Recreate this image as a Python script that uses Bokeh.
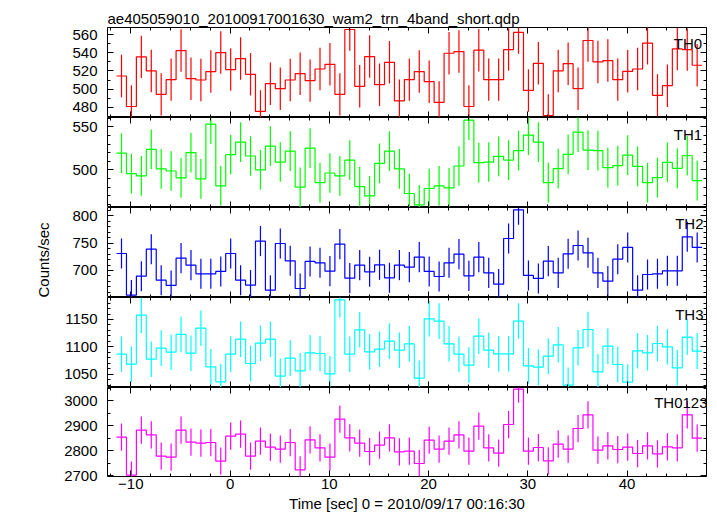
import numpy as np
from bokeh.plotting import figure
from bokeh.layouts import column
from bokeh.models import (Range1d, LinearAxis, SingleIntervalTicker, Label,
                          CustomLabelingPolicy, Title)
from bokeh.embed import file_html
from bokeh.resources import INLINE

# ---------------- data ----------------
title_text = "ae405059010_20100917001630_wam2_trn_4band_short.qdp"
x_title = "Time [sec] 0 = 2010/09/17 00:16:30"
y_title = "Counts/sec"
panel_names = ["TH0", "TH1", "TH2", "TH3", "TH0123"]

time_s = [-10.94, -9.94, -8.94, -7.94, -6.94, -5.94, -4.94, -3.94, -2.94, -1.94,
          -0.94, 0.06, 1.06, 2.06, 3.06, 4.06, 5.06, 6.06, 7.06, 8.06,
          9.06, 10.06, 11.06, 12.06, 13.06, 14.06, 15.06, 16.06, 17.06, 18.06,
          19.06, 20.06, 21.06, 22.06, 23.06, 24.06, 25.06, 26.06, 27.06, 28.06,
          29.06, 30.06, 31.06, 32.06, 33.06, 34.06, 35.06, 36.06, 37.06, 38.06,
          39.06, 40.06, 41.06, 42.06, 43.06, 44.06, 45.06, 46.06, 47.06]

th0 = [514.4, 480.7, 535.6, 520.0, 494.1, 510.4, 542.6, 511.5, 510.0, 519.3,
       540.4, 521.5, 533.7, 516.3, 475.2, 505.9, 500.4, 510.0, 517.0, 509.3,
       522.2, 527.4, 494.1, 565.9, 503.0, 535.9, 504.8, 529.6, 487.0, 510.4,
       519.3, 508.1, 485.2, 539.6, 541.5, 480.7, 543.0, 510.4, 510.4, 543.7,
       562.6, 498.5, 528.5, 470.7, 520.0, 528.1, 500.4, 553.7, 530.0, 531.5,
       510.4, 519.6, 522.2, 550.7, 493.0, 503.7, 544.4, 543.7, 526.3]

th1 = [519.6, 495.8, 493.1, 523.8, 501.2, 498.8, 490.8, 520.0, 489.6, 553.1,
       481.5, 517.7, 532.3, 516.2, 500.0, 527.7, 509.2, 521.9, 480.0, 525.4,
       485.4, 496.5, 493.1, 511.5, 480.8, 470.0, 507.7, 521.9, 501.2, 472.7,
       459.6, 478.5, 481.5, 479.2, 504.6, 557.7, 508.5, 509.2, 515.8, 511.5,
       522.3, 540.4, 532.3, 485.4, 501.5, 518.1, 543.8, 523.1, 522.3, 502.7,
       505.0, 517.3, 504.2, 485.4, 491.2, 508.8, 501.9, 516.5, 487.7]

th2 = [731.1, 654.9, 689.6, 739.0, 682.3, 672.6, 722.6, 709.8, 693.9, 693.9,
       698.2, 731.1, 682.3, 673.2, 753.7, 664.0, 749.4, 717.7, 667.1, 716.5,
       714.0, 698.8, 748.2, 686.0, 709.8, 697.6, 710.4, 686.6, 709.8, 706.1,
       724.4, 698.2, 689.0, 714.0, 729.9, 690.2, 724.4, 695.7, 675.0, 758.5,
       811.0, 690.9, 685.4, 717.1, 695.7, 730.5, 745.7, 732.3, 695.7, 680.5,
       720.7, 742.1, 664.0, 692.7, 693.9, 699.4, 699.4, 761.6, 742.1]

th3 = [1086.6, 1068.3, 1157.9, 1077.4, 1097.6, 1090.2, 1122.6, 1088.4, 1134.1, 1063.4,
       1036.0, 1086.6, 1114.0, 1069.5, 1106.7, 1114.0, 1046.3, 1079.3, 1056.1, 1089.0,
       1087.8, 1050.6, 1186.0, 1086.6, 1131.1, 1090.9, 1095.7, 1110.4, 1093.9, 1105.5,
       1042.7, 1151.2, 1147.0, 1105.5, 1086.6, 1066.5, 1119.5, 1093.9, 1087.2, 1087.2,
       1147.0, 1065.2, 1062.8, 1082.9, 1103.7, 1029.9, 1098.2, 1131.7, 1054.3, 1101.2,
       1067.7, 1035.4, 1092.7, 1089.0, 1106.1, 1100.0, 1061.6, 1117.7, 1092.1]

th0123 = [2853.3, 2701.3, 2881.3, 2862.7, 2777.3, 2773.3, 2881.3, 2833.3, 2829.3, 2832.0,
          2757.3, 2857.3, 2865.3, 2777.3, 2837.3, 2813.3, 2805.3, 2832.0, 2722.7, 2842.7,
          2810.7, 2773.3, 2925.3, 2850.7, 2829.3, 2796.0, 2821.3, 2850.7, 2794.7, 2797.3,
          2748.0, 2841.3, 2805.3, 2837.3, 2862.7, 2797.3, 2897.3, 2810.7, 2789.3, 2904.0,
          3045.3, 2797.3, 2812.0, 2758.7, 2825.3, 2805.3, 2888.0, 2942.7, 2801.3, 2818.7,
          2804.0, 2813.3, 2788.0, 2818.7, 2786.7, 2814.7, 2810.7, 2942.7, 2849.3]

# typical 1-sigma error half-lengths read from the bars of each panel
errors = [23.5, 23.0, 27.5, 32.5, 54.5]
series = [th0, th1, th2, th3, th0123]
colors = ["#ff0000", "#00ff00", "#0000ff", "#00ffff", "#ff00ff"]

x_limits = (-12.35, 48.0)
y_limits = [(468.5, 568.1), (456.5, 560.8), (650.6, 815.2), (1025.6, 1190.2), (2696.0, 3052.0)]
y_major = [20, 50, 50, 50, 100]
y_minor = [2, 5, 5, 5, 2]

# ---------------- layout ----------------
FONT = "Liberation Sans"
W = 716
LEFT, RIGHT, TOP, BOTTOM = 107, 10, 27, 39
FRAME_H = [90, 90, 90, 90, 89]
FRAME_W = W - LEFT - RIGHT


def x_at(page_px):
    return x_limits[0] + (page_px - LEFT) * (x_limits[1] - x_limits[0]) / FRAME_W


def y_at(i, px_below_top):
    y0, y1 = y_limits[i]
    return y1 - px_below_top * (y1 - y0) / FRAME_H[i]


def style_axis(ax, show_labels):
    ax.axis_line_color = None
    ax.major_tick_in = 6
    ax.major_tick_out = 0
    ax.minor_tick_in = 3
    ax.minor_tick_out = 0
    ax.major_tick_line_color = "black"
    ax.minor_tick_line_color = "black"
    ax.major_tick_line_width = 1
    ax.minor_tick_line_width = 1
    if show_labels:
        ax.major_label_text_font = FONT
        ax.major_label_text_font_size = "15px"
        ax.major_label_text_color = "black"
    else:
        ax.major_label_text_font_size = "0px"
        ax.major_label_standoff = 0
        ax.major_label_policy = CustomLabelingPolicy(code="return []")


figs = []
label_right = [701.7, 701.7, 703.0, 703.0, 707.0]
label_base = [16.0, 16.6, 16.3, 16.6, 15.0]
for i in range(5):
    first = i == 0
    last = i == 4
    h = FRAME_H[i] + (TOP if first else 0) + (BOTTOM if last else 0)
    p = figure(width=W, height=h,
               x_range=Range1d(*x_limits), y_range=Range1d(*y_limits[i]),
               output_backend="svg", toolbar_location=None,
               x_axis_location=None, y_axis_location=None,
               min_border_left=LEFT, min_border_right=RIGHT,
               min_border_top=TOP if first else 0,
               min_border_bottom=BOTTOM if last else 0)
    p.xgrid.visible = False
    p.ygrid.visible = False
    p.outline_line_color = "black"
    p.outline_line_width = 1
    p.background_fill_color = "white"
    p.border_fill_color = "white"

    for side in ("left", "right"):
        ax = LinearAxis(ticker=SingleIntervalTicker(interval=y_major[i], num_minor_ticks=y_minor[i]))
        style_axis(ax, side == "left")
        if side == "left":
            ax.major_label_standoff = 10
        p.add_layout(ax, side)
    for side in ("above", "below"):
        ax = LinearAxis(ticker=SingleIntervalTicker(interval=10, num_minor_ticks=5))
        show = (side == "below" and last)
        style_axis(ax, show)
        if show:
            ax.major_label_standoff = 2
            ax.major_label_overrides = {-10: "\u221210"}
            ax.axis_label = x_title
            ax.axis_label_text_font = FONT
            ax.axis_label_text_font_size = "15px"
            ax.axis_label_text_font_style = "normal"
            ax.axis_label_text_color = "black"
            ax.axis_label_standoff = 3
        p.add_layout(ax, side)

    if first:
        p.title.text = title_text
        p.title.align = "left"
        p.title.text_font = FONT
        p.title.text_font_size = "15px"
        p.title.text_font_style = "normal"
        p.title.text_color = "black"
        p.title.standoff = 2
        p.title.offset = 0
    if i == 2:
        p.add_layout(Title(text=y_title, align="left", offset=0, standoff=35,
                           text_font=FONT, text_font_size="15px", text_font_style="normal",
                           text_color="black"), "left")

    t = np.array(time_s)
    v = np.array(series[i])
    e = errors[i]
    edges = np.append(t - 0.5, t[-1] + 0.5)
    vals = np.append(v, v[-1])
    p.step(x=edges, y=vals, mode="after", line_color=colors[i], line_width=1.2)
    p.segment(x0=t, y0=v - e, x1=t, y1=v + e, line_color=colors[i], line_width=1.2)

    p.add_layout(Label(x=x_at(label_right[i]), y=y_at(i, label_base[i]), text=panel_names[i],
                       text_align="right", text_baseline="alphabetic",
                       text_font=FONT, text_font_size="15px", text_color="black"))
    figs.append(p)

layout = column(*figs, spacing=0)
open("out.html", "w").write(file_html(layout, INLINE))
